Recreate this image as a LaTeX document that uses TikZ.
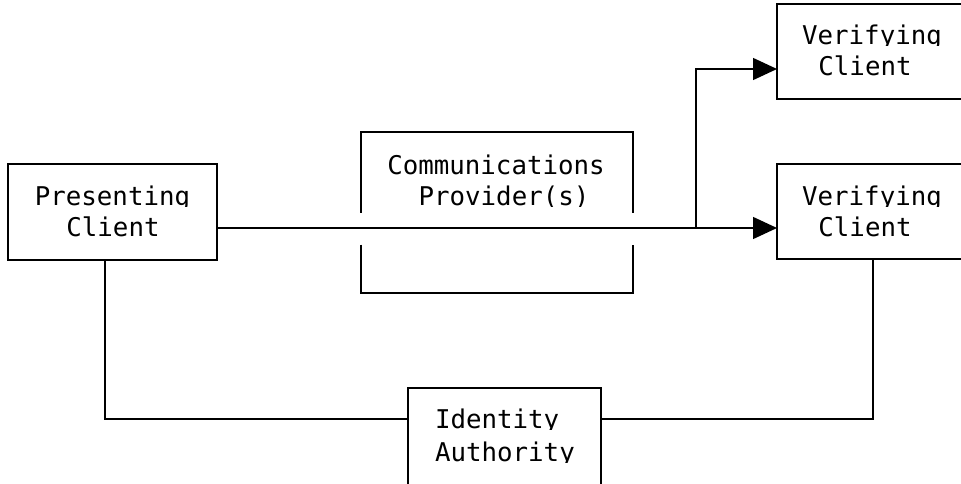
\documentclass[tikz,border=0pt]{standalone}
\usepackage{fontspec}
\setmonofont{DejaVu Sans Mono}
\usetikzlibrary{arrows.meta}

\tikzset{
  box/.style={draw, rectangle, inner sep=0pt, outer sep=0pt, line width=1.4pt},
  wire/.style={line width=1.4pt},
  arr/.style={wire, -{Triangle[length=24pt,width=22pt]}},
  boxtext/.style={font=\ttfamily\fontsize{25.8}{30}\selectfont, inner sep=0pt, outer sep=0pt}
}

% one line of box text, cut off at its baseline
% #1 name, #2 anchor, #3 x, #4 baseline y, #5 text
\newcommand\clippedline[5]{%
  \begin{scope}
    \clip (#3-220,#4+1) rectangle (#3+220,#4-40);
    \node[boxtext, anchor=#2] (#1) at (#3,#4) {#5};
  \end{scope}}

\begin{document}
\begin{tikzpicture}[x=1pt, y=-1pt]
  \useasboundingbox (0,0) rectangle (961,484);
  \clip (0,0) rectangle (961,484);

  % boxes
  \node[box, minimum width=209pt, minimum height=96pt] (pc) at (112.5,212) {};
  \node[box, minimum width=210pt, minimum height=95pt] (vc1) at (882,51.5) {};
  \node[box, minimum width=210pt, minimum height=95pt] (vc2) at (882,211.5) {};
  \node[box, minimum width=193pt, minimum height=112pt] (ia) at (504.5,444) {};
  \node[inner sep=0pt, outer sep=0pt, minimum width=272pt, minimum height=161pt] (cp) at (497,212.5) {};

  % provider box, open where the line passes through
  \draw[wire] ([yshift=-0.5pt]cp.west |- 0,212) -- (cp.north west) -- (cp.north east) -- ([yshift=-0.5pt]cp.east |- 0,212);
  \draw[wire] ([yshift=0.5pt]cp.west |- 0,245) -- (cp.south west) -- (cp.south east) -- ([yshift=0.5pt]cp.east |- 0,245);

  % texts
  \clippedline{pc-a}{base}{112.5}{205}{Presenting}
  \clippedline{pc-b}{base}{113}{236}{Client}
  \clippedline{cp-a}{base}{496}{175}{Communications}
  \clippedline{cp-b}{base}{504}{205}{Provider(s)}
  \clippedline{vc1-a}{base}{872}{45}{Verifying}
  \clippedline{vc1-b}{base}{865}{76}{Client}
  \clippedline{vc2-a}{base}{872}{205}{Verifying}
  \clippedline{vc2-b}{base}{865}{236}{Client}
  \clippedline{ia-a}{base west}{435}{428}{Identity}
  \clippedline{ia-b}{base west}{435}{461}{Authority}

  % routing lanes
  \coordinate (lane) at (0,228);
  \coordinate (lane2) at (0,69);
  \coordinate (lane3) at (0,419);
  \coordinate (fork) at (696,228);
  \coordinate (dropL) at (105,0);
  \coordinate (dropR) at (873,0);

  % connectors
  \draw[arr] (pc.east |- lane) -- (vc2.west |- lane);
  \draw[arr] (fork) |- (vc1.west |- lane2);
  \draw[wire] (pc.south -| dropL) |- (ia.west |- lane3);
  \draw[wire] (ia.east |- lane3) -| (vc2.south -| dropR);
\end{tikzpicture}
\end{document}
